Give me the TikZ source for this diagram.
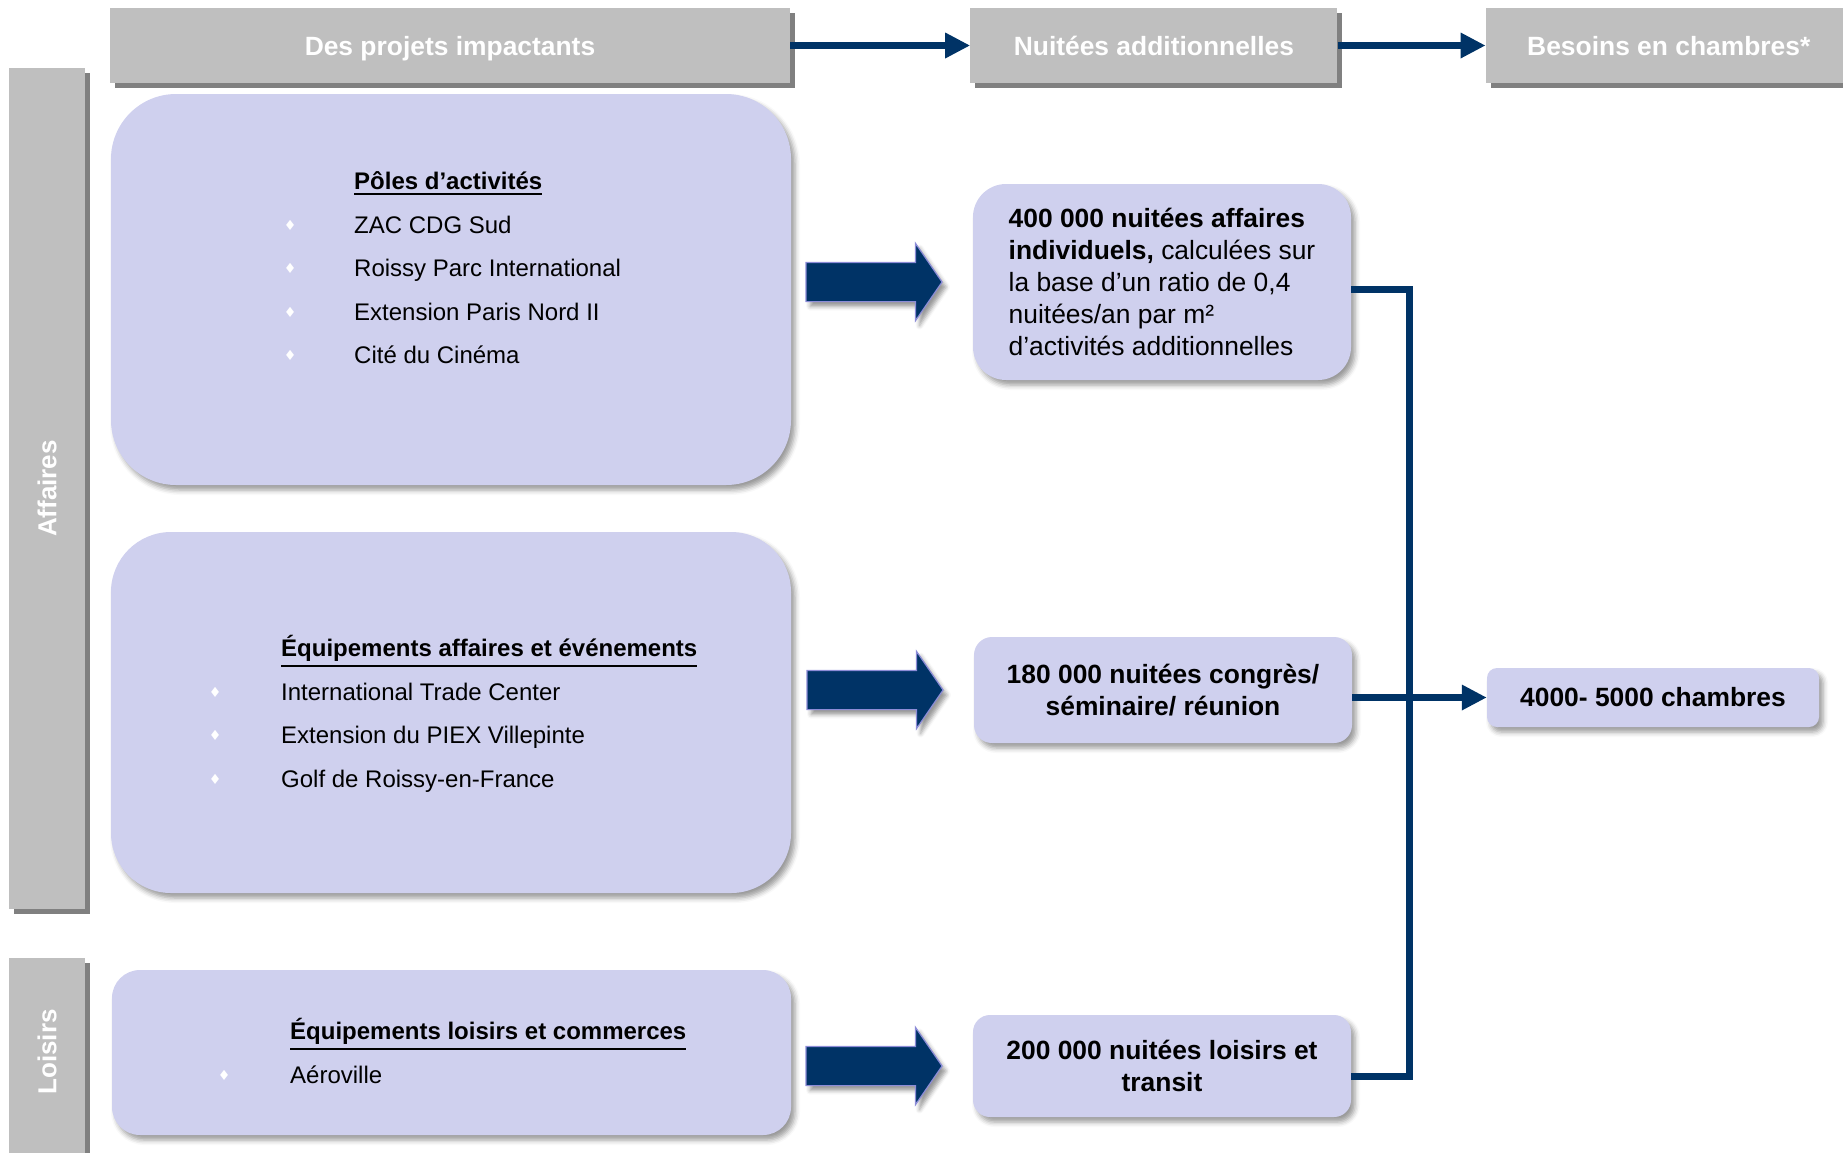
\documentclass[tikz,border=0pt]{standalone}
\usepackage{fontspec}
\setmainfont{Liberation Sans}
\newfontfamily\dejavu{DejaVu Sans}
\usepackage{xcolor}
\usepackage{tikz}
\usetikzlibrary{shapes.arrows, arrows.meta, positioning, shadows, shadows.blur}

\definecolor{bargray}{RGB}{191,191,191}
\definecolor{barshade}{RGB}{128,128,128}
\definecolor{lavande}{RGB}{207,208,238}
\definecolor{marine}{RGB}{0,51,102}
\definecolor{arrowrim}{RGB}{140,140,215}

\newsavebox{\titrebox}
\newcommand{\puce}{\makebox[8pt]{\color{white}\dejavu\fontsize{14}{14}\selectfont\raisebox{3pt}{♦}}}
\newcommand{\titre}[1]{\sbox{\titrebox}{\textbf{#1}}%
  \rlap{\raisebox{-\dimexpr\dp\titrebox+5pt\relax}{\rule{\wd\titrebox}{1.8pt}}}\usebox{\titrebox}}

\begin{document}
\begin{tikzpicture}[x=1pt, y=-1pt]
\tikzstyle{entete} = [rectangle, fill=bargray, text=white, inner sep=0pt, text height=20pt, text depth=1pt, font=\bfseries\fontsize{26.4}{32}\selectfont, drop shadow={shadow xshift=5pt, shadow yshift=-5pt, fill=barshade, opacity=1}]
\tikzstyle{etiquette} = [rotate=90, text=white, inner sep=0pt, font=\bfseries\fontsize{26}{30}\selectfont]
\tikzstyle{cadre} = [rectangle, fill=lavande, inner sep=0pt, blur shadow={shadow xshift=4pt, shadow yshift=-5pt, shadow blur radius=5pt, shadow opacity=40}]
\tikzstyle{liste} = [inner sep=0pt, anchor=west, font=\fontsize{24}{43.5}\selectfont]
\tikzstyle{fleche} = [single arrow, fill=marine, draw=arrowrim, line width=1.2pt, inner xsep=0pt, inner ysep=19pt, minimum height=136pt, single arrow head extend=19pt, single arrow tip angle=111, anchor=tip, blur shadow={shadow xshift=4pt, shadow yshift=-5pt, shadow blur radius=4pt, shadow opacity=40}]
\tikzstyle{lien} = [draw=marine, line width=7pt]
\tikzstyle{pointe} = [-{Triangle[length=25pt, width=24pt]}]

\useasboundingbox (0,0) rectangle (1843,1152);

% en-tetes
\node (h1) [entete, minimum width=680pt, minimum height=75pt] at (450,45.5) {Des projets impactants};
\node (h2) [entete, minimum width=367pt, minimum height=75pt, right=180pt of h1] {Nuitées additionnelles};
\node (h3) [entete, minimum width=366pt, minimum height=75pt, right=148pt of h2] {Besoins en chambres*};

% bandeaux lateraux
\node (affaires) [entete, minimum width=76pt, minimum height=841pt] at (47,488.5) {};
\node (laff) [etiquette] at (affaires.center) {Affaires};
\node (loisirs) [entete, minimum width=76pt, minimum height=204pt] at (47,1060) {};
\node (lloi) [etiquette] at (47,1052) {Loisirs};

% projets
\node (p1) [cadre, minimum width=680pt, minimum height=391pt, rounded corners=65pt] at (451,289.5) {};
\node (p2) [cadre, minimum width=680pt, minimum height=361pt, rounded corners=60pt] at (451,712.5) {};
\node (p3) [cadre, minimum width=679pt, minimum height=165pt, rounded corners=28pt] at (451.5,1052.5) {};

\node (l1) [liste] at (286,268) {\begin{tabular}{@{}l@{\hspace{60pt}}l@{}}
 & \titre{Pôles d’activités}\\
\puce & ZAC CDG Sud\\
\puce & Roissy Parc International\\
\puce & Extension Paris Nord II\\
\puce & Cité du Cinéma
\end{tabular}};
\node (l2) [liste] at (211,713.5) {\begin{tabular}{@{}l@{\hspace{62pt}}l@{}}
 & \titre{Équipements affaires et événements}\\
\puce & International Trade Center\\
\puce & Extension du PIEX Villepinte\\
\puce & Golf de Roissy-en-France
\end{tabular}};
\node (l3) [liste] at (220,1053) {\begin{tabular}{@{}l@{\hspace{62pt}}l@{}}
 & \titre{Équipements loisirs et commerces}\\
\puce & Aéroville
\end{tabular}};

% nuitees
\node (r1) [cadre, minimum width=378pt, minimum height=196pt, rounded corners=33pt, align=left, font=\fontsize{26.4}{32}\selectfont] at (1162,282)
  {\textbf{400 000 nuitées affaires}\\\textbf{individuels,} calculées sur\\la base d’un ratio de 0,4\\nuitées/an par m²\\d’activités additionnelles};
\node (r2) [cadre, minimum width=378pt, minimum height=106pt, rounded corners=18pt, align=center, font=\bfseries\fontsize{26.4}{32}\selectfont] at (1163,690)
  {180 000 nuitées congrès/\\séminaire/ réunion};
\node (r3) [cadre, minimum width=378pt, minimum height=102pt, rounded corners=17pt, align=center, font=\bfseries\fontsize{26.4}{32}\selectfont] at (1162,1066)
  {200 000 nuitées loisirs et\\transit};
\node (fin) [cadre, minimum width=332pt, minimum height=59pt, rounded corners=10pt, font=\bfseries\fontsize{26.4}{32}\selectfont] at (1653,697.5)
  {4000- 5000 chambres};

% fleches pleines
\node (f1) [fleche] at ([xshift=-30pt]r1.west) {};
\node (f2) [fleche] at ([xshift=-30pt]r2.west) {};
\node (f3) [fleche] at ([xshift=-30pt]r3.west) {};

% liaisons
\draw [lien, pointe] (h1) -- (h2);
\draw [lien, pointe] (h2) -- (h3);
\coordinate (noeud) at ([xshift=57pt]r2.east |- fin.west);
\draw [lien] ([yshift=-7pt]r1.east) -| (noeud);
\draw [lien] ([yshift=-10pt]r3.east) -| (noeud);
\draw [lien, pointe] (r2.east |- fin.west) -- (fin.west);

\end{tikzpicture}
\end{document}
